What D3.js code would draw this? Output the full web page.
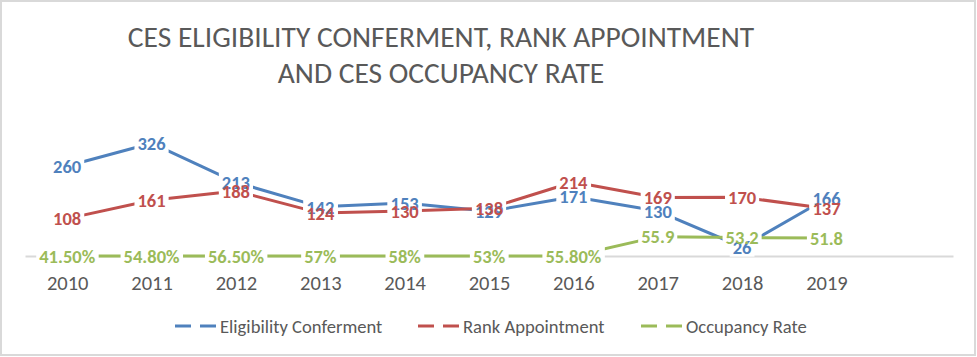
<!DOCTYPE html>
<html><head><meta charset="utf-8">
<script src="https://cdn.jsdelivr.net/npm/d3@7"></script>
<style>
html,body{margin:0;padding:0;background:#fff;}
svg{display:block;}
text{font-family:Carlito, Calibri, Lato, "Open Sans", sans-serif;}
</style></head><body>
<svg id="c" width="977" height="357"></svg>
<script>
// ---- data ----
const years = ["2010","2011","2012","2013","2014","2015","2016","2017","2018","2019"];
const eligibility = [260,326,213,142,153,129,171,130,26,166];
const rank = [108,161,188,124,130,138,214,169,170,137];
// text entries are plotted as zero (as in the spreadsheet source)
const occupancy = ["41.50%","54.80%","56.50%","57%","58%","53%","55.80%",55.9,53.2,51.8];
const seriesNames = ["Eligibility Conferment","Rank Appointment","Occupancy Rate"];
const titleLines = ["CES ELIGIBILITY CONFERMENT, RANK APPOINTMENT","AND CES OCCUPANCY RATE"];

const colors = ["#4F81BD","#C0504D","#9BBB59"];
const series = [eligibility, rank, occupancy].map((vals,k)=>({
  name: seriesNames[k], color: colors[k],
  points: vals.map((v,i)=>({i, y: typeof v === "number" ? v : 0, label: String(v)}))
}));

const svg = d3.select("#c");
svg.append("rect").attr("width",977).attr("height",357).attr("fill","#fff");
svg.append("rect").attr("x",1).attr("y",1).attr("width",974).attr("height",354)
  .attr("fill","none").attr("stroke","#d9d9d9").attr("stroke-width",2);

// title
svg.append("g").selectAll("text").data(titleLines).join("text")
  .attr("x",441).attr("y",(d,i)=>47+i*36)
  .attr("text-anchor","middle").attr("fill","#595959")
  .style("font-size","29.5px").style("font-weight",300)
  .text(d=>d);

const x = d3.scaleLinear().domain([-0.5, years.length + 0.5]).range([25, 953]);
const y = d3.scaleLinear().domain([0, 400]).range([256, 117.6]);

// axis
const ax = svg.append("g").attr("transform","translate(0,256)")
  .call(d3.axisBottom(x).tickValues(d3.range(years.length)).tickFormat(i=>years[i]).tickSize(0).tickSizeOuter(0));
ax.select(".domain").attr("stroke","#d9d9d9").attr("stroke-width",2);
ax.selectAll("text").attr("dy",null).attr("y",33.5).attr("fill","#595959")
  .style("font-size","20.5px").style("font-family","Carlito, Calibri, Lato, sans-serif");

// lines
const line = d3.line().x(d=>x(d.i)).y(d=>y(d.y));
svg.append("g").selectAll("path").data(series).join("path")
  .attr("d",d=>line(d.points)).attr("fill","none")
  .attr("stroke",d=>d.color).attr("stroke-width",3)
  .attr("stroke-linejoin","round").attr("stroke-linecap","round");

// labels
const lab = svg.append("g");
const allLabels = series.flatMap(s=>s.points.map(p=>({...p, color:s.color})));
const rects = lab.append("g");
const texts = lab.append("g").selectAll("text").data(allLabels).join("text")
  .attr("x",d=>x(d.i)).attr("y",d=>y(d.y)).attr("dy","0.36em")
  .attr("text-anchor","middle").attr("fill",d=>d.color)
  .style("font-size","18.5px").style("font-weight","bold").text(d=>d.label);
texts.each(function(){
  const b = this.getBBox();
  rects.append("rect").attr("x",b.x-3).attr("y",b.y+2).attr("width",b.width+6).attr("height",b.height-4).attr("fill","#fff");
});

// legend
const legX = [175, 418, 641];
const leg = svg.append("g").selectAll("g").data(series).join("g")
  .attr("transform",(d,i)=>`translate(${legX[i]},326)`);
leg.append("line").attr("x1",0).attr("x2",42).attr("stroke",d=>d.color)
  .attr("stroke-width",3).attr("stroke-dasharray","16,9");
leg.append("text").attr("x",45).attr("dy","0.36em").attr("fill","#595959")
  .style("font-size","18.6px").text(d=>d.name);
</script>
</body></html>
